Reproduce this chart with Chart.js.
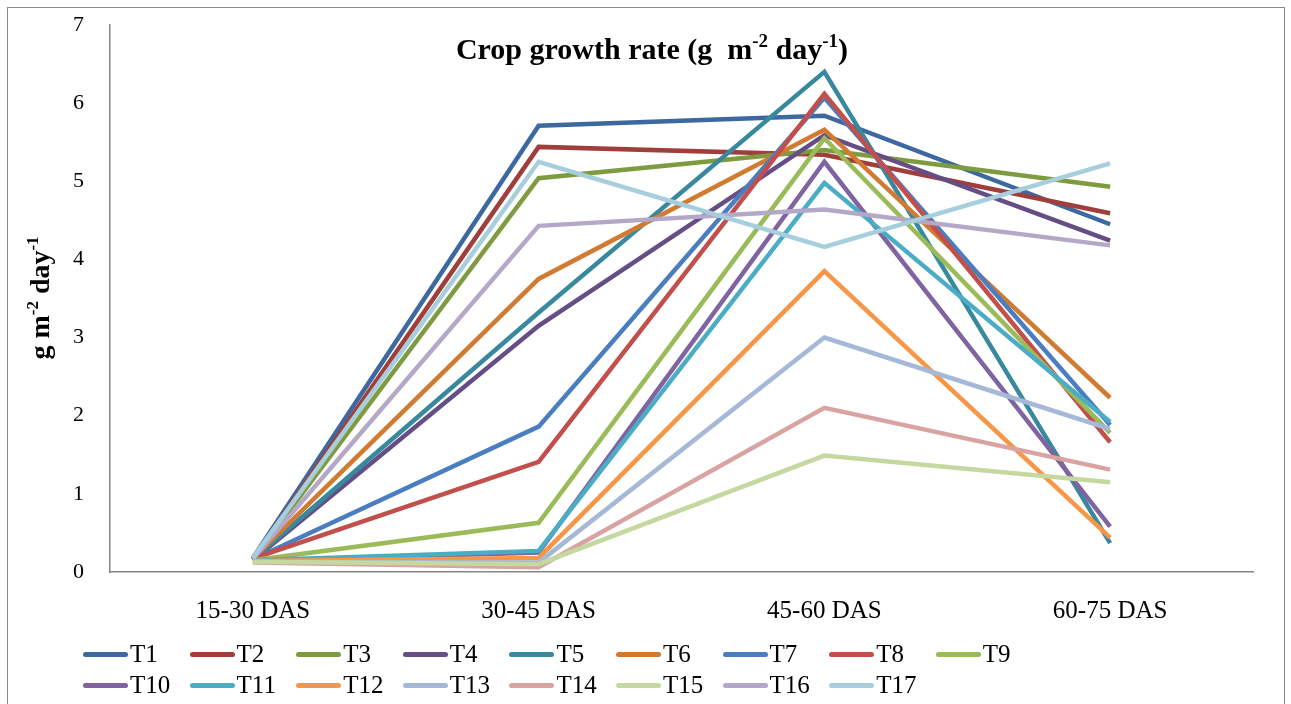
<!DOCTYPE html>
<html lang="en">
<head>
  <meta charset="UTF-8">
  <title>Crop growth rate</title>
  <script src="https://cdn.jsdelivr.net/npm/chart.js"></script>
  <style>
    html, body { margin: 0; padding: 0; background: #fff; }
    #wrap { position: relative; width: 1291px; height: 704px; overflow: hidden; }
    #cgr { position: absolute; left: 0; top: 0; }
    #legend { position: absolute; left: 83px; top: 640px; display: grid;
      grid-template-columns: repeat(9, 106.6px); row-gap: 3px;
      font-family: "Liberation Serif", "Times New Roman", serif; font-size: 25px; color: #000; }
    .item { display: flex; align-items: center; height: 28px; }
    .swatch { display: inline-block; width: 45px; height: 5px; border-radius: 3px; margin-right: 2px; }
  </style>
</head>
<body>
<div id="wrap">
  <canvas id="cgr" width="1291" height="704"></canvas>
  <div id="legend"></div>
</div>

<script>
  // values (g m-2 day-1)
  const categories = ['15-30 DAS', '30-45 DAS', '45-60 DAS', '60-75 DAS'];
  const T1  = [0.18, 5.71, 5.84, 4.45];
  const T2  = [0.17, 5.44, 5.34, 4.59];
  const T3  = [0.16, 5.04, 5.40, 4.93];
  const T4  = [0.15, 3.15, 5.59, 4.24];
  const T5  = [0.16, 3.32, 6.40, 0.37];
  const T6  = [0.17, 3.75, 5.66, 2.23];
  const T7  = [0.16, 1.86, 6.07, 1.88];
  const T8  = [0.17, 1.41, 6.12, 1.66];
  const T9  = [0.15, 0.63, 5.55, 1.78];
  const T10 = [0.14, 0.25, 5.25, 0.58];
  const T11 = [0.15, 0.27, 4.98, 1.92];
  const T12 = [0.14, 0.18, 3.85, 0.44];
  const T13 = [0.13, 0.12, 3.00, 1.83];
  const T14 = [0.12, 0.06, 2.10, 1.31];
  const T15 = [0.13, 0.10, 1.49, 1.15];
  const T16 = [0.17, 4.43, 4.64, 4.18];
  const T17 = [0.18, 5.25, 4.16, 5.23];

  const seriesNames = ['T1','T2','T3','T4','T5','T6','T7','T8','T9','T10','T11','T12','T13','T14','T15','T16','T17'];
  const seriesValues = [T1,T2,T3,T4,T5,T6,T7,T8,T9,T10,T11,T12,T13,T14,T15,T16,T17];
  const colors = ['#3D69A0','#A03E3B','#7F9B3F','#654E86','#38899E','#D17B32','#4A7EC0','#C24F4C','#9BBB59',
                  '#8064A2','#4BACC6','#F79646','#A6B8D7','#D9A3A1','#C4D8A0','#B4A8C8','#A6CEDC'];

  const serif = '"Liberation Serif", "Times New Roman", serif';

  // text with superscript parts, drawn centred on (x, y)
  function drawRich(ctx, parts, x, y, size) {
    const big = 'bold ' + size + 'px ' + serif;
    const small = 'bold ' + Math.round(size * 0.62) + 'px ' + serif;
    let w = 0;
    parts.forEach(p => { ctx.font = p.sup ? small : big; w += ctx.measureText(p.t).width; });
    let cx = x - w / 2;
    ctx.textBaseline = 'middle';
    ctx.textAlign = 'left';
    ctx.fillStyle = '#000';
    parts.forEach(p => {
      ctx.font = p.sup ? small : big;
      ctx.fillText(p.t, cx, p.sup ? y - size * 0.3 : y);
      cx += ctx.measureText(p.t).width;
    });
  }

  const decor = {
    id: 'decor',
    beforeDraw(chart) {
      const ctx = chart.ctx;
      ctx.save();
      ctx.strokeStyle = '#8a8a8a';
      ctx.lineWidth = 1;
      ctx.strokeRect(7.5, 7.5, 1277, 760);
      ctx.restore();
    },
    afterDraw(chart) {
      const ctx = chart.ctx;
      ctx.save();
      drawRich(ctx, [{t: 'Crop growth rate (g  m'}, {t: '-2', sup: true}, {t: ' day'}, {t: '-1', sup: true}, {t: ')'}], 652, 51, 30);
      ctx.translate(42, 298);
      ctx.rotate(-Math.PI / 2);
      drawRich(ctx, [{t: 'g m'}, {t: '-2', sup: true}, {t: ' day'}, {t: '-1', sup: true}], 0, 0, 28);
      ctx.restore();
    }
  };

  const datasets = seriesNames.map((name, i) => ({
    label: name,
    data: seriesValues[i],
    borderColor: colors[i],
    backgroundColor: colors[i],
    borderWidth: 4.5,
    pointRadius: 0,
    tension: 0,
    order: seriesNames.length - i
  }));

  new Chart(document.getElementById('cgr'), {
    type: 'line',
    data: { labels: categories, datasets: datasets },
    options: {
      responsive: false,
      animation: false,
      layout: { padding: { left: 0, right: 38, top: 25, bottom: 72 } },
      plugins: { legend: { display: false }, tooltip: { enabled: false } },
      scales: {
        x: {
          offset: true,
          grid: { display: false, drawTicks: false },
          border: { color: '#868686', width: 1.5 },
          ticks: { padding: 24, color: '#000', font: { family: serif, size: 25 } },
          afterFit(scale) { scale.height = 60; scale.paddingLeft = 0; scale.paddingRight = 0; }
        },
        y: {
          min: 0, max: 7,
          grid: { display: false, drawTicks: false },
          border: { color: '#868686', width: 1.5 },
          ticks: { stepSize: 1, padding: 26, color: '#000', font: { family: serif, size: 22 } },
          afterFit(scale) { scale.width = 110; scale.paddingTop = 0; scale.paddingBottom = 0; }
        }
      }
    },
    plugins: [decor]
  });

  // legend in two rows, fixed column width like the original
  const legend = document.getElementById('legend');
  seriesNames.forEach((name, i) => {
    const item = document.createElement('div');
    item.className = 'item';
    item.innerHTML = '<span class="swatch" style="background:' + colors[i] + '"></span>' + name;
    legend.appendChild(item);
  });
</script>
</body>
</html>
